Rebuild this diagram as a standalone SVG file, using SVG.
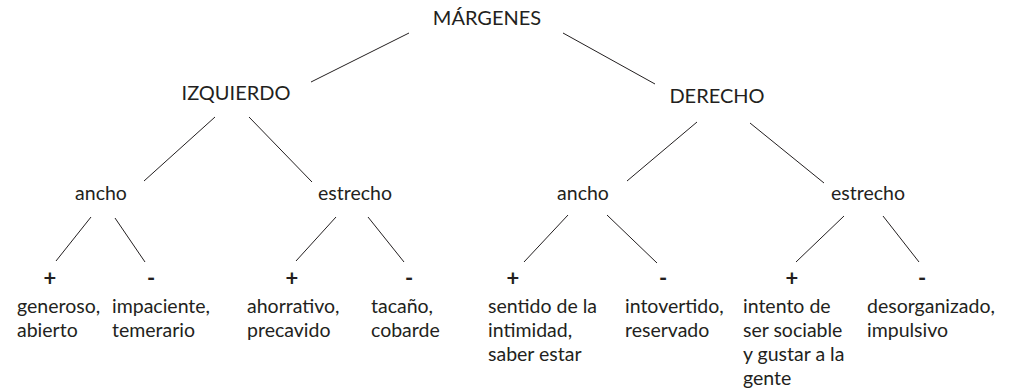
<svg xmlns="http://www.w3.org/2000/svg" width="1014" height="390" viewBox="0 0 1014 390">
<style>
text{font-family:Lato,"Open Sans","Liberation Sans",sans-serif;fill:#231f20;font-size:19.5px}
.up{font-size:20px;text-anchor:middle}
.mid{text-anchor:middle}
.sign{font-weight:bold;text-anchor:middle;font-size:22px}
line{stroke:#231f20;stroke-width:1}
</style>
<rect width="1014" height="390" fill="#fff"/>
<g id="connectors">
<line x1="409" y1="33" x2="311" y2="82"/>
<line x1="563" y1="33" x2="655" y2="84"/>
<line x1="215" y1="117" x2="144" y2="181"/>
<line x1="249" y1="117" x2="312" y2="182"/>
<line x1="697" y1="122" x2="627" y2="181"/>
<line x1="750" y1="123" x2="824" y2="183"/>
<line x1="91" y1="217" x2="56" y2="261"/>
<line x1="115" y1="218" x2="145" y2="262"/>
<line x1="336" y1="217" x2="296" y2="261"/>
<line x1="368" y1="217" x2="404" y2="262"/>
<line x1="568" y1="215" x2="524" y2="262"/>
<line x1="607" y1="215" x2="657" y2="263"/>
<line x1="844" y1="216" x2="796" y2="262"/>
<line x1="883" y1="216" x2="919" y2="262"/>
</g>
<g id="margenes"><text class="up" x="487" y="25">MÁRGENES</text></g>
<g id="izquierdo"><text class="up" x="236" y="100">IZQUIERDO</text></g>
<g id="derecho"><text class="up" x="717" y="103">DERECHO</text></g>
<g id="izq-ancho"><text class="mid" x="101" y="200">ancho</text></g>
<g id="izq-estrecho"><text class="mid" x="355" y="200">estrecho</text></g>
<g id="der-ancho"><text class="mid" x="583" y="200">ancho</text></g>
<g id="der-estrecho"><text class="mid" x="868" y="200">estrecho</text></g>
<g id="leaf1"><text class="sign" x="50" y="286">+</text><text x="17" y="313">generoso,</text><text x="17" y="337">abierto</text></g>
<g id="leaf2"><text class="sign" x="151" y="286">-</text><text x="112" y="313">impaciente,</text><text x="112" y="337">temerario</text></g>
<g id="leaf3"><text class="sign" x="292" y="286">+</text><text x="247" y="313">ahorrativo,</text><text x="247" y="337">precavido</text></g>
<g id="leaf4"><text class="sign" x="409" y="286">-</text><text x="371" y="313">tacaño,</text><text x="371" y="337">cobarde</text></g>
<g id="leaf5"><text class="sign" x="513" y="286">+</text><text x="488" y="313">sentido de la</text><text x="488" y="337">intimidad,</text><text x="488" y="361">saber estar</text></g>
<g id="leaf6"><text class="sign" x="663" y="286">-</text><text x="625" y="313">intovertido,</text><text x="625" y="337">reservado</text></g>
<g id="leaf7"><text class="sign" x="792" y="286">+</text><text x="743" y="313">intento de</text><text x="743" y="337">ser sociable</text><text x="743" y="361">y gustar a la</text><text x="743" y="385">gente</text></g>
<g id="leaf8"><text class="sign" x="922" y="286">-</text><text x="867" y="313">desorganizado,</text><text x="867" y="337">impulsivo</text></g>
</svg>
